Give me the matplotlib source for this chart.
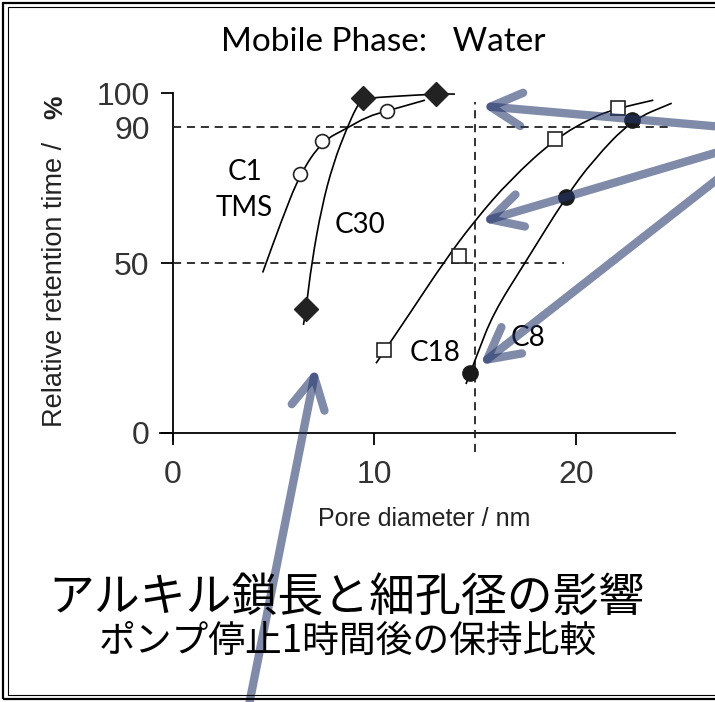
import matplotlib
matplotlib.use('Agg')
import matplotlib.pyplot as plt
from matplotlib.patches import Rectangle, PathPatch
from matplotlib.path import Path

plt.rcParams['font.family'] = ['Liberation Sans', 'DejaVu Sans']

# retention data read per phase: markers and the drawn fit curve
c1_x = [6.32, 7.43, 10.62]
c1_y = [76.2, 85.9, 94.7]
c1_curve_x = [4.47, 5.41, 6.32, 7.43, 8.64, 9.63, 10.62, 12.52]
c1_curve_y = [47.2, 62.6, 76.2, 85.9, 89.6, 93.0, 94.7, 97.9]

c30_x = [6.62, 9.43, 13.06]
c30_y = [36.4, 98.4, 99.7]
c30_curve_x = [6.49, 6.62, 6.90, 7.40, 7.97, 8.64, 9.13, 9.43, 11.2, 13.06, 14.0]
c30_curve_y = [31.8, 36.4, 50.1, 66.6, 79.3, 89.6, 96.0, 98.4, 99.1, 99.7, 99.7]

c18_x = [10.49, 14.22, 18.96, 22.10]
c18_y = [24.4, 52.1, 86.5, 95.5]
c18_curve_x = [10.09, 11.77, 13.43, 15.0, 16.73, 18.96, 20.86, 22.10, 23.84]
c18_curve_y = [20.5, 35.2, 50.1, 62.6, 74.4, 86.5, 93.0, 95.5, 97.9]

c8_x = [14.75, 19.51, 22.77]
c8_y = [17.6, 69.5, 92.1]
c8_curve_x = [14.55, 15.10, 15.90, 17.48, 19.51, 20.86, 22.77, 24.75]
c8_curve_y = [14.4, 23.0, 35.2, 50.1, 69.5, 80.3, 92.1, 97.0]

xticks = [0, 10, 20]
yticks = [0, 50, 90, 100]

# arrow tips (data) and tails (figure fraction)
arrow_tips = [(15.33, 96.2), (15.33, 62.1), (15.25, 20.0), (7.11, 19.1)]
arrow_tails = [(1.035, 0.817), (1.035, 0.7926), (1.035, 0.770), (0.344, -0.026)]


def smooth_curve(ax, xs, ys):
    # quadratic bezier through midpoints, read points act as control points
    pts = list(zip(xs, ys))
    verts = [pts[0]]
    codes = [Path.MOVETO]
    for i in range(1, len(pts) - 1):
        mid_prev = ((pts[i - 1][0] + pts[i][0]) / 2, (pts[i - 1][1] + pts[i][1]) / 2)
        mid_next = ((pts[i][0] + pts[i + 1][0]) / 2, (pts[i][1] + pts[i + 1][1]) / 2)
        if i == 1:
            verts.append(mid_prev)
            codes.append(Path.LINETO)
        verts += [pts[i], mid_next]
        codes += [Path.CURVE3, Path.CURVE3]
    verts.append(pts[-1])
    codes.append(Path.LINETO)
    ax.add_patch(PathPatch(Path(verts, codes), fill=False, ec='black',
                           lw=1.2, clip_on=False, zorder=3))


fig = plt.figure(figsize=(7.15, 7.02), dpi=100)
ax = fig.add_axes([0.2413, 0.3832, 0.7052, 0.4843])
ax.set_xlim(0, 25)
ax.set_ylim(0, 100)
for s in ax.spines.values():
    s.set_visible(False)
ax.patch.set_visible(False)

# axis lines, crossing slightly at the origin
ax.plot([-0.6, 24.9], [0, 0], color='black', lw=1.3, clip_on=False, zorder=2)
ax.plot([0, 0], [-2.1, 100], color='black', lw=1.3, clip_on=False, zorder=2)

ax.set_xticks(xticks)
ax.set_yticks(yticks)
ax.tick_params(direction='out', length=8.5, width=1.3, labelsize=23,
               labelcolor='#333333')
ax.tick_params(axis='x', pad=11)
ax.tick_params(axis='y', pad=8)
ax.yaxis.get_major_ticks()[2].tick1line.set_visible(False)

# guide lines
dash = (0, (4.5, 3.2))
ax.plot([0, 24.6], [90, 90], color='#222222', lw=1.3, linestyle=dash)
ax.plot([0, 19.4], [50, 50], color='#222222', lw=1.3, linestyle=dash)
ax.plot([15, 15], [-5.5, 97.5], color='#222222', lw=1.3, linestyle=dash,
        clip_on=False)

smooth_curve(ax, c1_curve_x, c1_curve_y)
smooth_curve(ax, c30_curve_x, c30_curve_y)
smooth_curve(ax, c18_curve_x, c18_curve_y)
smooth_curve(ax, c8_curve_x, c8_curve_y)

ax.plot(c1_x, c1_y, 'o', ms=10, mfc='white', mec='#222222', mew=1.2,
        zorder=4, clip_on=False)
ax.plot(c30_x, c30_y, 'D', ms=12, mfc='#222222', mec='#222222',
        zorder=4, clip_on=False)
ax.plot(c18_x, c18_y, 's', ms=10, mfc='white', mec='#222222', mew=1.2,
        zorder=4, clip_on=False)
ax.plot(c8_x, c8_y, 'o', ms=11, mfc='#1a1a1a', mec='#1a1a1a',
        zorder=4, clip_on=False)

lab_font = dict(family=['Lato', 'DejaVu Sans'], fontsize=20, ha='center', va='center')
ax.text(3.59, 76.8, 'C1', **lab_font)
ax.text(3.54, 66.2, 'TMS', **lab_font)
ax.text(9.3, 61.2, 'C30', **lab_font)
ax.text(13.01, 23.5, 'C18', **lab_font)
ax.text(17.63, 28.0, 'C8', **lab_font)

fig.text(383 / 715, 1 - 42 / 702, 'Mobile Phase:   Water',
         family=['Lato', 'DejaVu Sans'], fontsize=24, ha='center', va='center')

ax.set_xlabel('Pore diameter / nm', fontsize=18, color='#222222', labelpad=12)
fig.text(0.077, 0.5947, 'Relative retention time /', rotation=90,
         fontsize=19.5, color='#222222', ha='center', va='center')
fig.text(0.077, 0.847, '%', rotation=90, fontsize=19, fontweight='bold',
         color='#222222', ha='center', va='center')

jp = ['Noto Sans CJK JP', 'DejaVu Sans']
fig.text(347 / 715, 1 - 598 / 702, 'アルキル鎖長と細孔径の影響',
         family=jp, fontsize=33, ha='center', va='center')
fig.text(348 / 715, 1 - 641 / 702, 'ポンプ停止1時間後の保持比較',
         family=jp, fontsize=26.5, ha='center', va='center')

# double frame around the panel
fig.patches.append(Rectangle((3 / 715, 3 / 702), 1.2, 696 / 702,
                             transform=fig.transFigure, fill=False,
                             ec='black', lw=1.6))
fig.patches.append(Rectangle((8 / 715, 7 / 702), 1.2, 688 / 702,
                             transform=fig.transFigure, fill=False,
                             ec='black', lw=0.8))

for tip, tail in zip(arrow_tips, arrow_tails):
    ax.annotate('', xy=tip, xycoords='data', xytext=tail,
                textcoords='figure fraction', annotation_clip=False,
                arrowprops=dict(arrowstyle='->,head_length=0.45,head_width=0.24',
                                mutation_scale=50, lw=6, color='#24366b',
                                alpha=0.58, shrinkA=0, shrinkB=0,
                                capstyle='round', joinstyle='round'),
                zorder=10)

fig.savefig('out.png', dpi=100)
